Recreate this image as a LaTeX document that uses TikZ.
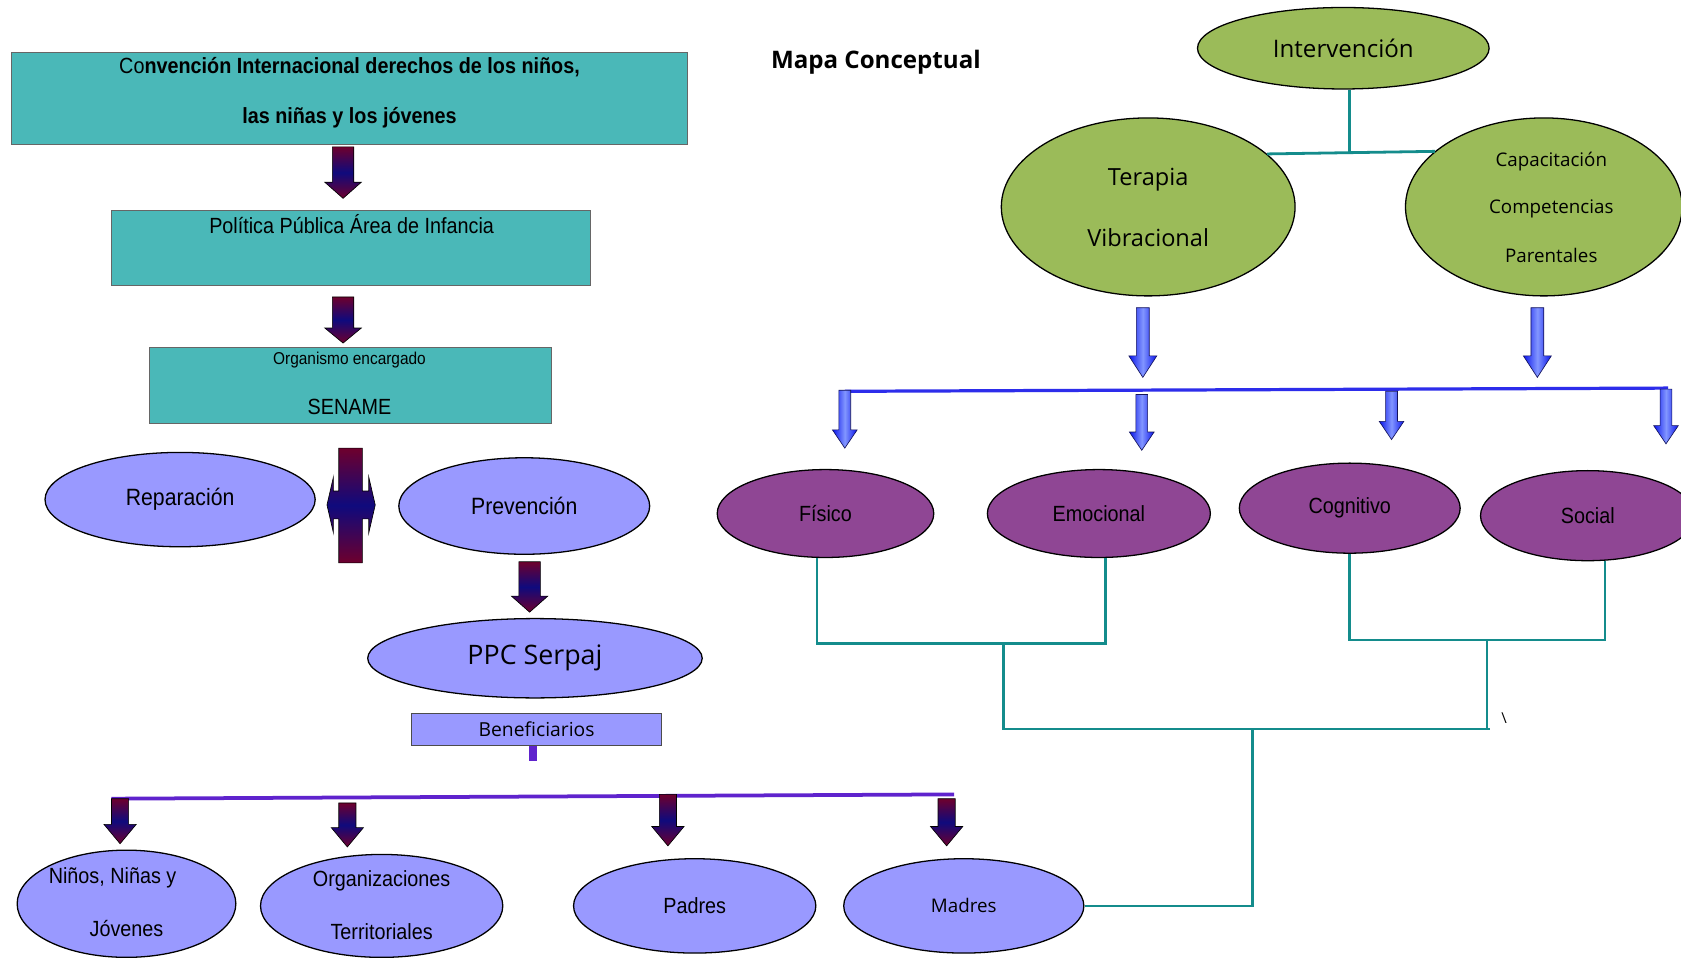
\documentclass[tikz,border=0pt]{standalone}
\usepackage{fontspec}
\setmainfont{Liberation Sans}[FakeStretch=0.9]
\newfontfamily\comic{Open Sans}
\usetikzlibrary{shapes.geometric}
\definecolor{tealbox}{RGB}{74,184,184}
\definecolor{peri}{RGB}{153,153,255}
\definecolor{purp}{RGB}{143,70,148}
\definecolor{grn}{RGB}{155,187,89}
\definecolor{tline}{RGB}{20,140,140}
\definecolor{bline}{RGB}{45,45,235}
\definecolor{pline}{RGB}{95,35,205}
\definecolor{ared}{RGB}{110,0,45}
\definecolor{ablue}{RGB}{15,10,125}
\definecolor{bdark}{RGB}{10,20,235}
\definecolor{blight}{RGB}{130,150,255}
\definecolor{navyb}{RGB}{20,20,90}
\newcommand\vlarrow[7]{\path[#1] (#2-#5,#3) -- (#2+#5,#3) -- (#2+#5,#4-#7) -- (#2+#6,#4-#7) -- (#2,#4) -- (#2-#6,#4-#7) -- (#2-#5,#4-#7) -- cycle;}
\tikzset{
 tbox/.style={rectangle, draw=black!60, line width=0.8pt, fill=tealbox, inner sep=0pt},
 pell/.style={ellipse, draw=black, line width=1.2pt, fill=peri, inner sep=0pt},
 gell/.style={ellipse, draw=black, line width=1.2pt, fill=grn, inner sep=0pt},
 vell/.style={ellipse, draw=black, line width=1.2pt, fill=purp, inner sep=0pt},
 txt/.style={inner sep=0pt, font=\fontsize{20.5}{22}\selectfont},
 ctxt/.style={inner sep=0pt, font=\comic\fontsize{18}{20}\selectfont},
 conn/.style={draw=tline, line width=2.6pt},
 darkar/.style={top color=ared, bottom color=ared, middle color=ablue, draw=black, line width=0.6pt},
 bluear/.style={left color=bdark, right color=bdark, middle color=blight, draw=navyb, line width=0.6pt},
}
\begin{document}
\begin{tikzpicture}[x=1pt,y=-1pt]
\useasboundingbox[fill=white] (0,0) rectangle (1568,893);

% ---------- left column ----------
\node[tbox, minimum width=630pt, minimum height=86pt] (conv) at (326,92) {};
\node[txt] (conv1) at (326,63) {Co\textbf{nvención Internacional derechos de los niños,}};
\node[txt] (conv2) at (326,110) {\textbf{las niñas y los jóvenes}};

\node[tbox, minimum width=447pt, minimum height=70pt] (pol) at (327.5,231) {};
\node[txt] (pol1) at (328,209) {Política Pública Área de Infancia};

\node[tbox, minimum width=375pt, minimum height=71pt] (org) at (326.5,359.5) {};
\node[txt, font=\fontsize{16}{18}\selectfont] (org1) at (326,336) {Organismo encargado};
\node[txt] (org2) at (326,380) {SENAME};

\vlarrow{darkar}{320}{137}{185}{10}{17}{15}
\vlarrow{darkar}{320}{277}{320}{10}{17}{14}

\node[pell, minimum width=252pt, minimum height=88pt, font=\fontsize{22}{24}\selectfont] (rep) at (168,466) {Reparación};
\node[pell, minimum width=234pt, minimum height=90pt, font=\fontsize{22}{24}\selectfont] (prev) at (489,472) {Prevención};

\path[darkar] (316,418) -- (338,418) -- (338,458) -- (344,458) -- (344,445) -- (350,471) -- (344,497) -- (344,484) -- (338,484) -- (338,525) -- (316,525) -- (316,484) -- (311,484) -- (311,497) -- (305,471) -- (311,445) -- (311,458) -- (316,458) -- cycle;

\vlarrow{darkar}{494}{524}{571}{10}{17}{15}

\node[pell, minimum width=312pt, minimum height=74pt, font=\comic\fontsize{25}{27}\selectfont] (ppc) at (499,614) {PPC Serpaj};

\node[rectangle, draw=black!70, line width=0.8pt, fill=peri, minimum width=233pt, minimum height=30pt, inner sep=0pt, font=\comic\fontsize{18}{20}\selectfont] (ben) at (500.5,680) {Beneficiarios};
\fill[pline] (493,696) rectangle (501,710);

\coordinate (pl1) at (104,745);
\coordinate (pl2) at (890,741);
\draw[pline, line width=3.5pt] (pl1) -- (pl2);

\vlarrow{darkar}{112}{745}{787}{8}{15}{18}
\vlarrow{darkar}{324}{749}{790}{8}{15}{18}
\vlarrow{darkar}{623}{741}{789}{8}{15}{18}
\vlarrow{darkar}{883}{745}{789}{8}{15}{18}

\node[pell, minimum width=204pt, minimum height=100pt] (nin) at (118,843) {};
\node[txt] (nin1) at (105,819) {Niños, Niñas y};
\node[txt] (nin2) at (118,866) {Jóvenes};
\node[pell, minimum width=226pt, minimum height=96pt] (orgt) at (356,845) {};
\node[txt] (orgt1) at (356,822) {Organizaciones};
\node[txt] (orgt2) at (356,869) {Territoriales};
\node[pell, minimum width=226pt, minimum height=88pt, font=\fontsize{20.5}{22}\selectfont] (pad) at (648,845) {Padres};
\node[pell, minimum width=224pt, minimum height=88pt, font=\comic\fontsize{17.5}{20}\selectfont] (mad) at (899,845) {Madres};

% ---------- right side ----------
\node[inner sep=0pt, font=\comic\bfseries\fontsize{22.5}{24}\selectfont] (titulo) at (817,58) {Mapa Conceptual};

\node[gell, minimum width=272pt, minimum height=76pt, font=\comic\fontsize{22.5}{24}\selectfont] (int) at (1253,45) {Intervención};
\node[gell, minimum width=274pt, minimum height=166pt] (ter) at (1071,193) {};
\node[ctxt, font=\comic\fontsize{22}{24}\selectfont] (ter1) at (1071,168) {Terapia};
\node[ctxt, font=\comic\fontsize{22}{24}\selectfont] (ter2) at (1071,222) {Vibracional};
\node[gell, minimum width=258pt, minimum height=166pt] (cap) at (1440,193) {};
\node[ctxt, font=\comic\fontsize{17.5}{20}\selectfont] (cap1) at (1447,151) {Capacitación};
\node[ctxt, font=\comic\fontsize{17.5}{20}\selectfont] (cap2) at (1447,195) {Competencias};
\node[ctxt, font=\comic\fontsize{17.5}{20}\selectfont] (cap3) at (1447,238) {Parentales};

\draw[conn] (ter.24) -- (cap.153);
\coordinate (j0) at (1259,143);
\draw[conn] ([xshift=6pt]int.south) -- (j0);

\vlarrow{bluear}{1066}{287}{352}{6}{13}{20}
\vlarrow{bluear}{1434}{287}{352}{6}{13}{20}

\coordinate (bl1) at (788,365);
\coordinate (bl2) at (1556,362);
\draw[bline, line width=3pt] (bl1) -- (bl2);

\vlarrow{bluear}{788}{364}{418}{5.5}{11.5}{17}
\vlarrow{bluear}{1065}{368}{420}{5.5}{11.5}{17}
\vlarrow{bluear}{1298}{365}{410}{5.5}{11.5}{17}
\vlarrow{bluear}{1554}{363}{414}{5.5}{11.5}{17}

\node[vell, minimum width=202pt, minimum height=82pt, txt] (fis) at (770,479) {Físico};
\node[vell, minimum width=208pt, minimum height=82pt, txt] (emo) at (1025,479) {Emocional};
\node[vell, minimum width=206pt, minimum height=84pt, txt] (cog) at (1259,474) {Cognitivo};
\node[vell, minimum width=200pt, minimum height=84pt, txt] (soc) at (1481,481) {Social};

\coordinate (j1) at (936,600);
\coordinate (j2) at (1387,597);
\coordinate (j3) at (1168,680);
\coordinate (j4) at (1390,680);
\draw[conn] ([xshift=-8pt]fis.south) |- (j1) -| ([xshift=6pt]emo.south);
\draw[conn] (cog.south) |- (j2) -| ([xshift=16pt]soc.south);
\draw[conn] (j1) |- (j4);
\draw[conn] (j2) -- (j2 |- j4);
\draw[conn] (mad.east) -| (j3);

\node[inner sep=0pt, font=\comic\fontsize{14}{14}\selectfont] (mark) at (1403,670) {\textbackslash};
\end{tikzpicture}
\end{document}
